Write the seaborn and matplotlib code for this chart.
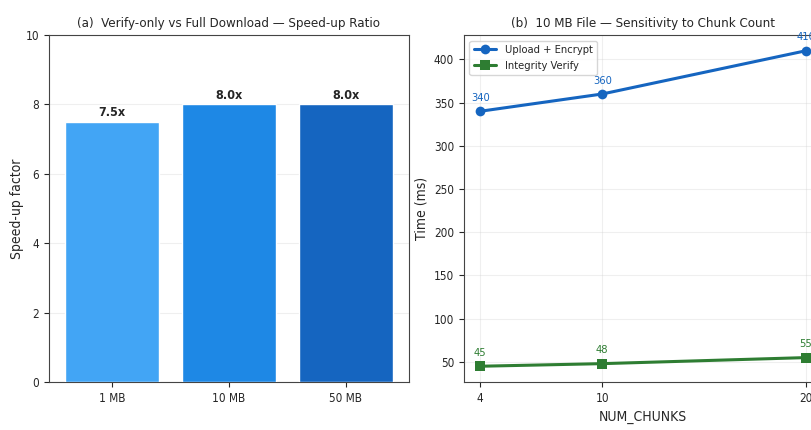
import matplotlib
matplotlib.use("Agg")
import matplotlib.pyplot as plt
import seaborn as sns
import pandas as pd

# Panel (a): speed-up of verify-only over full download
file_sizes = ["1 MB", "10 MB", "50 MB"]
speedup = [7.5, 8.0, 8.0]
bar_colors = ["#42A5F5", "#1E88E5", "#1565C0"]

# Panel (b): 10 MB file, timing vs number of chunks
num_chunks = [4, 10, 20]
upload_ms = [340, 360, 410]
verify_ms = [45, 48, 55]

sns.set_style("ticks")
plt.rcParams["font.family"] = ["DejaVu Sans"]
plt.rcParams["font.stretch"] = "condensed"

fig = plt.figure(figsize=(8.11, 4.30), dpi=100)
ax1 = fig.add_axes([0.0604, 0.1116, 0.4439, 0.807])
ax2 = fig.add_axes([0.572, 0.1116, 0.4416, 0.807])

# ---- (a) bar chart
df_a = pd.DataFrame({"size": file_sizes, "speedup": speedup})
sns.barplot(data=df_a, x="size", y="speedup", hue="size", palette=bar_colors,
            saturation=1, width=0.8, legend=False, ax=ax1, zorder=3)
for i, v in enumerate(speedup):
    ax1.annotate(f"{v:.1f}x", (i, v), xytext=(0, 2), textcoords="offset points",
                 ha="center", va="bottom", fontsize=9, fontweight="bold")
ax1.set_xlim(-0.54, 2.54)
ax1.set_ylim(0, 10)
ax1.set_title("(a)  Verify-only vs Full Download — Speed-up Ratio", fontsize=9.5)
ax1.set_xlabel("")
ax1.set_ylabel("Speed-up factor", fontsize=10, labelpad=1)
ax1.grid(axis="y", alpha=0.3)
ax1.tick_params(labelsize=8.5)

# ---- (b) line chart
df_b = pd.DataFrame({
    "chunks": num_chunks * 2,
    "ms": upload_ms + verify_ms,
    "series": ["Upload + Encrypt"] * 3 + ["Integrity Verify"] * 3,
})
line_colors = {"Upload + Encrypt": "#1565C0", "Integrity Verify": "#2E7D32"}
sns.lineplot(data=df_b, x="chunks", y="ms", hue="series", style="series",
             palette=line_colors, markers={"Upload + Encrypt": "o", "Integrity Verify": "s"},
             dashes=False, linewidth=2.2, markersize=7, markeredgewidth=0, ax=ax2)
for name, vals in [("Upload + Encrypt", upload_ms), ("Integrity Verify", verify_ms)]:
    for x, y in zip(num_chunks, vals):
        ax2.annotate(str(y), (x, y), xytext=(0, 6), textcoords="offset points",
                     ha="center", va="bottom", fontsize=8, color=line_colors[name])
ax2.set_xticks(num_chunks)
ax2.set_title("(b)  10 MB File — Sensitivity to Chunk Count", fontsize=9.5)
ax2.set_xlabel("NUM_CHUNKS", fontsize=10)
ax2.set_ylabel("Time (ms)", fontsize=10)
ax2.grid(alpha=0.3)
ax2.tick_params(labelsize=8.5)
ax2.legend(loc="upper left", fontsize=8, title=None)

for ax in (ax1, ax2):
    for s in ax.spines.values():
        s.set_color("#444444")

fig.savefig("out.png", dpi=100)
